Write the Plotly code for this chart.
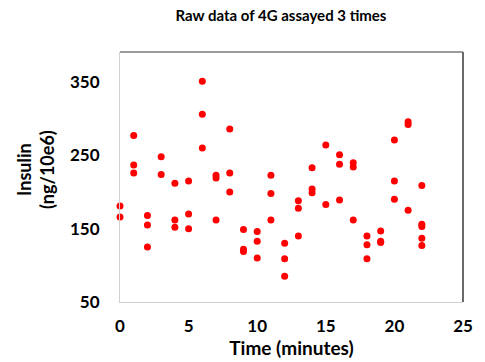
import plotly.graph_objects as go

# Insulin readings (ng/10e6) at each time point, three assays per time
time_min = [0, 0,
            1, 1, 1,
            2, 2, 2,
            3, 3,
            4, 4, 4,
            5, 5, 5,
            6, 6, 6,
            7, 7, 7,
            8, 8, 8,
            9, 9, 9,
            10, 10, 10,
            11, 11, 11,
            12, 12, 12,
            13, 13, 13,
            14, 14, 14,
            15, 15,
            16, 16, 16,
            17, 17, 17,
            18, 18, 18,
            19, 19, 19,
            20, 20, 20,
            21, 21, 21,
            22, 22, 22, 22, 22]
insulin = [181, 166,
           277, 237, 226,
           168, 155, 125,
           248, 224,
           212, 162, 152,
           215, 170, 150,
           351, 306, 260,
           223, 219, 162,
           286, 226, 200,
           149, 122, 119,
           146, 133, 110,
           223, 198, 162,
           130, 109, 85,
           188, 178, 140,
           233, 204, 199,
           264, 183,
           251, 238, 189,
           240, 234, 162,
           140, 128, 109,
           147, 133, 131,
           271, 215, 190,
           296, 292, 175,
           209, 156, 153, 137, 127]

x_ticks = [0, 5, 10, 15, 20, 25]
y_ticks = [50, 150, 250, 350]

FONT = "Lato"

fig = go.Figure(
    go.Scatter(
        x=time_min, y=insulin, mode="markers",
        marker=dict(color="#ff0000", size=7, line=dict(width=0)),
        cliponaxis=False, showlegend=False,
    )
)

fig.update_layout(
    width=485, height=362,
    margin=dict(l=120, r=12, t=52, b=59),
    paper_bgcolor="white", plot_bgcolor="white",
    title=dict(text="<b>Raw data of 4G assayed 3 times</b>",
               x=281 / 485, xanchor="center", y=1 - 16 / 362, yanchor="middle",
               font=dict(family=FONT, size=15, color="black")),
    font=dict(family=FONT, color="black"),
)

fig.update_xaxes(
    range=[0, 25], tickvals=x_ticks, ticktext=[f"<b>{v}</b>" for v in x_ticks],
    tickfont=dict(family=FONT, size=17, color="black"),
    showgrid=False, zeroline=False, ticks="outside", ticklen=9, tickcolor="rgba(0,0,0,0)",
    showline=True, linecolor="#d0d0d0", linewidth=1,
    title=dict(text="<b>Time (minutes)</b>", standoff=0,
               font=dict(family=FONT, size=19, color="black")),
)
fig.update_yaxes(
    range=[50, 391], tickvals=y_ticks, ticktext=[f"<b>{v}</b>" for v in y_ticks],
    tickfont=dict(family=FONT, size=17, color="black"),
    showgrid=False, zeroline=False, ticks="outside", ticklen=16, tickcolor="rgba(0,0,0,0)",
    showline=True, linecolor="#d0d0d0", linewidth=1,
    title=dict(text=""),
)

# y-axis title as two stacked rotated lines
fig.add_annotation(
    text="<b>Insulin<br>(ng/10e6)</b>", xref="paper", yref="paper",
    x=-87 / 353, y=(303 - 170) / 251, xanchor="center", yanchor="middle",
    textangle=-90, showarrow=False,
    font=dict(family=FONT, size=18, color="black"),
)

# darker frame edges on top and right of the plot area
fig.add_shape(type="line", xref="paper", yref="paper", x0=0, x1=1, y0=1, y1=1,
              line=dict(color="#7a7a7a", width=1.5))
fig.add_shape(type="line", xref="paper", yref="paper", x0=1, x1=1, y0=0, y1=1,
              line=dict(color="#6a6a6a", width=2))

fig.write_html("out.html")
